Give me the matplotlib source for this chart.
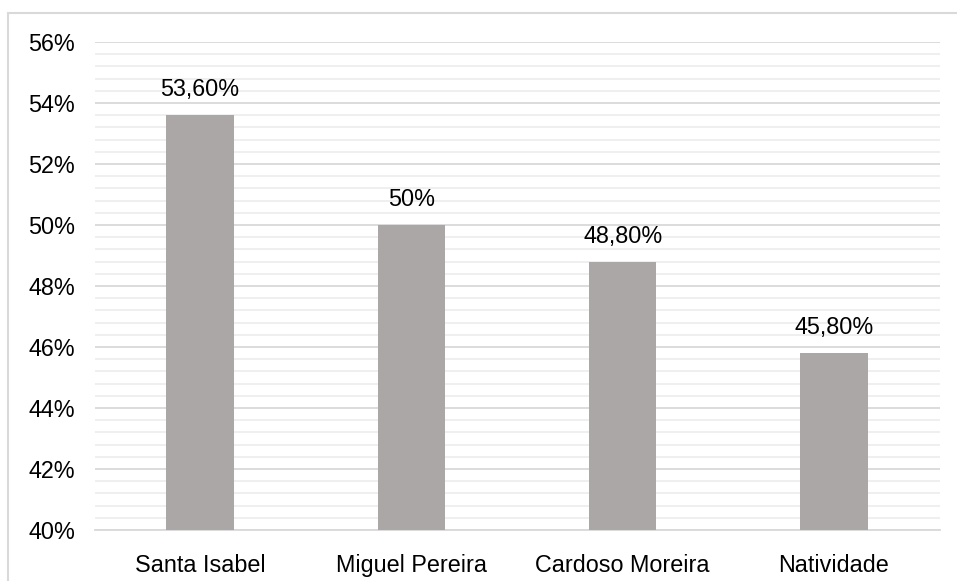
import matplotlib
matplotlib.use("Agg")
import matplotlib.pyplot as plt
from matplotlib.patches import Rectangle
from matplotlib.ticker import MultipleLocator, FuncFormatter

categories = ["Santa Isabel", "Miguel Pereira", "Cardoso Moreira", "Natividade"]
values = [53.6, 50.0, 48.8, 45.8]
labels = ["53,60%", "50%", "48,80%", "45,80%"]

plt.rcParams['font.family'] = ['Liberation Sans', 'DejaVu Sans']

fig = plt.figure(figsize=(9.57, 5.81), dpi=100)
# outer frame (top and left visible)
fig.patches.append(Rectangle((8/957, -0.1), 1.2, 1 - 13/581 + 0.1, transform=fig.transFigure,
                             fill=False, edgecolor='#D9D9D9', linewidth=1.5, zorder=0))
ax = fig.add_axes([94.5/957, 1 - 530/581, (939.5 - 94.5)/957, (530 - 42)/581])

x = range(len(categories))
ax.bar(x, [v - 40 for v in values], bottom=40, width=0.32, color='#ABA7A6', zorder=3)
for i, (v, lab) in enumerate(zip(values, labels)):
    ax.text(i, v + 0.45, lab, ha='center', va='bottom', fontsize=16.8, color='#000000')

ax.set_xlim(-0.5, 3.5)
ax.set_ylim(40, 56)
ax.yaxis.set_major_locator(MultipleLocator(2))
ax.yaxis.set_minor_locator(MultipleLocator(0.4))
ax.yaxis.set_major_formatter(FuncFormatter(lambda v, p: f"{v:.0f}%"))
ax.set_xticks(list(x))
ax.set_xticklabels(categories)
ax.grid(axis='y', which='major', color='#D9D9D9', linewidth=1.3, zorder=0)
ax.grid(axis='y', which='minor', color='#EEEEEE', linewidth=1.3, zorder=0)
ax.tick_params(axis='both', which='both', length=0, labelsize=16.8, colors='#000000')
ax.tick_params(axis='y', pad=14)
ax.tick_params(axis='x', pad=17)
for s in ['top', 'right', 'left']:
    ax.spines[s].set_visible(False)
ax.spines['bottom'].set_color('#D9D9D9')
ax.spines['bottom'].set_linewidth(1.3)

fig.savefig("out.png", dpi=100)
